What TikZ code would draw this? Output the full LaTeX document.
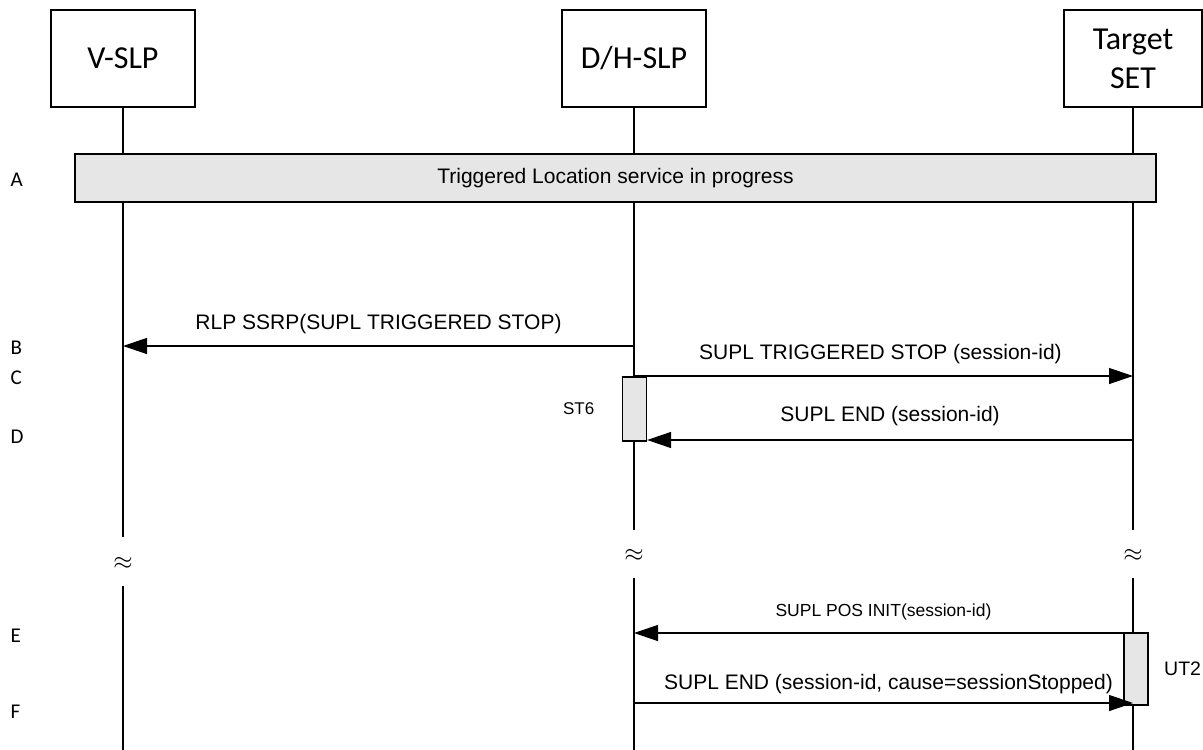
\documentclass[tikz,border=0pt]{standalone}
\usepackage{fontspec}
\setmainfont{Liberation Sans}
\newfontfamily\calfont{Carlito}
\usetikzlibrary{arrows.meta,positioning,calc}
\definecolor{sqgray}{HTML}{E6E6E6}
\tikzset{
  entity/.style={rectangle, draw=black, line width=1.3pt, minimum width=144pt,
                 minimum height=97pt, align=center, inner sep=2pt,
                 font=\calfont\fontsize{32}{39}\selectfont},
  life/.style={draw=black, line width=1.3pt},
  svcbar/.style={rectangle, draw=black, fill=sqgray, line width=1.3pt,
                 minimum width=1081pt, minimum height=48pt,
                 font=\fontsize{21}{24}\selectfont},
  msg/.style={-{Triangle[length=24pt,width=16pt]}, draw=black, line width=1.3pt},
  mlabel/.style={font=\fontsize{21}{24}\selectfont, above=8pt},
  actbox/.style={rectangle, draw=black, fill=sqgray, line width=1.3pt,
                 minimum width=24pt, inner sep=0pt},
  steplbl/.style={font=\calfont\fontsize{21}{24}\selectfont, anchor=west},
  brk/.style={font=\fontsize{30}{32}\selectfont, inner sep=0pt},
}
\begin{document}
\begin{tikzpicture}[x=1pt,y=-1pt]
\useasboundingbox (0,0) rectangle (1203,750);
% --- entities
\node[entity] (vslp) at (123,58.5) {V-SLP};
\node[entity] (hslp) at (634,58.5) {D/H-SLP};
\node[entity,minimum width=138pt] (tset) at (1133,58.5) {Target\\SET};

% --- lifelines with breaks
\coordinate (v1) at (123,537); \coordinate (v2) at (123,586); \coordinate (vend) at (123,750);
\coordinate (h1) at (634,530); \coordinate (h2) at (634,578); \coordinate (hend) at (634,750);
\coordinate (t1) at (1133,530); \coordinate (t2) at (1133,578); \coordinate (tend) at (1133,750);
\draw[life] (vslp) -- (v1); \draw[life] (v2) -- (vend);
\draw[life] (hslp) -- (h1); \draw[life] (h2) -- (hend);
\draw[life] (tset) -- (t1); \draw[life] (t2) -- (tend);
\node[brk] (vbrk) at (123,563) {$\approx$};
\node[brk] (hbrk) at (634,555) {$\approx$};
\node[brk] (tbrk) at (1133,555) {$\approx$};

% --- A
\node[svcbar] (svc) at (615.5,178) {Triggered Location service in progress};

% --- activation boxes
\node[actbox,minimum height=64pt] (st6) at (634.5,409) {};
\node[font=\fontsize{17}{20}\selectfont,left=24pt of st6] (st6lbl) {ST6};
\node[actbox,minimum height=72pt] (ut2) at (1136,669) {};
\node[font=\fontsize{19.5}{22}\selectfont,right=12pt of ut2] (ut2lbl) {UT2};

% --- messages
\coordinate (hB) at (634,346); \coordinate (vB) at (123,346);
\draw[msg] (hB) -- (vB) node[mlabel,midway] {RLP SSRP(SUPL TRIGGERED STOP)};
\coordinate (hC) at (634,376); \coordinate (tC) at (1133,376);
\draw[msg] (hC) -- (tC) node[mlabel,midway,xshift=-3pt] {SUPL TRIGGERED STOP (session-id)};
\coordinate (tD) at (1133,440);
\draw[msg] (tD) -- (st6.east |- tD) node[mlabel,midway,above=10pt] {SUPL END (session-id)};
\coordinate (tE) at (1133,633); \coordinate (hE) at (634,633);
\draw[msg] (tE) -- (hE) node[mlabel,midway,above=9pt,font=\fontsize{17.5}{20}\selectfont] {SUPL POS INIT(session-id)};
\coordinate (hF) at (634,703); \coordinate (tF) at (1133,703);
\draw[msg] (hF) -- (tF) node[mlabel,midway,above=5pt,xshift=5pt] {SUPL END (session-id, cause=sessionStopped)};

% --- step letters
\node[steplbl] (sa) at (7,180) {A};
\node[steplbl] (sb) at (7,348) {B};
\node[steplbl] (sc) at (7,378) {C};
\node[steplbl] (sd) at (7,437) {D};
\node[steplbl] (se) at (7,636) {E};
\node[steplbl] (sf) at (7,712) {F};
\end{tikzpicture}
\end{document}
